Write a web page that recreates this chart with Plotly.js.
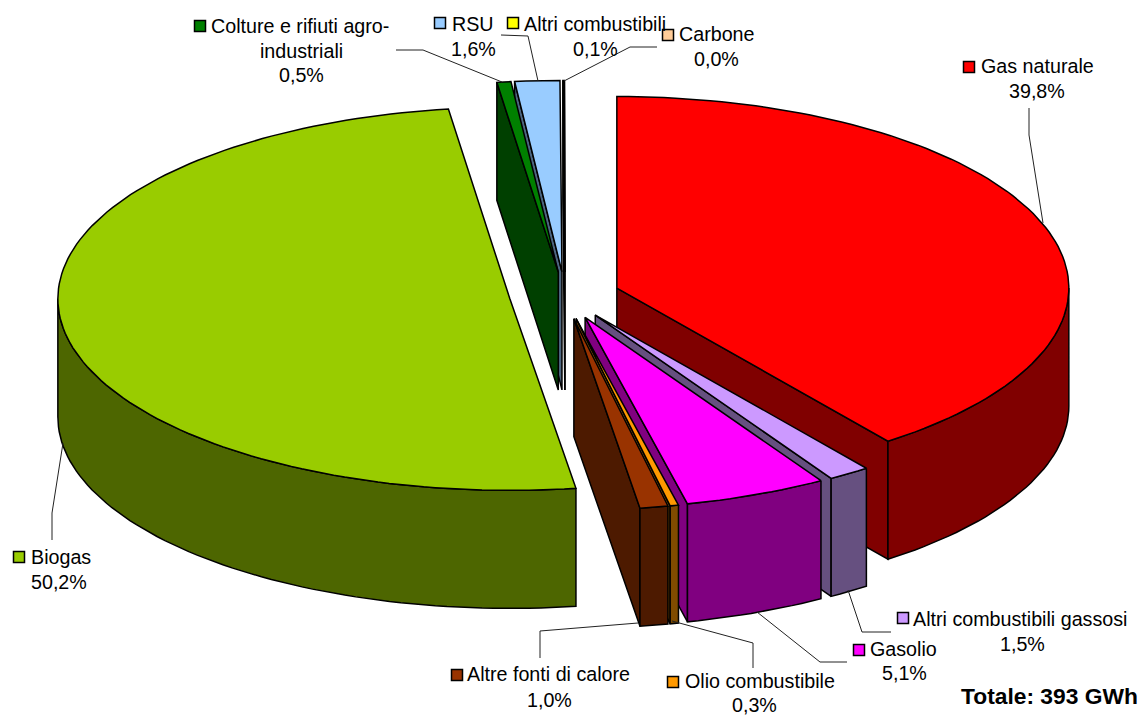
<!DOCTYPE html>
<html>
<head>
<meta charset="utf-8">
<script src="https://cdn.plot.ly/plotly-3.0.1.min.js"></script>
<style>html,body{margin:0;padding:0;background:#fff}#c{width:1141px;height:717px}</style>
</head>
<body>
<div id="c"></div>
<script>
// DATA ---------------------------------------------------------------
const categories = ["Gas naturale","Altri combustibili gassosi","Gasolio","Olio combustibile","Altre fonti di calore","Biogas","Colture e rifiuti agro-industriali","RSU","Altri combustibili","Carbone"];
const values = [39.75,1.5,5.1,0.3,1.0,50.15,0.5,1.6,0.05,0.02];
const pctLabels = ["39,8%","1,5%","5,1%","0,3%","1,0%","50,2%","0,5%","1,6%","0,1%","0,0%"];
const topColors = ["#FF0000","#CC99FF","#FF00FF","#FF9900","#993300","#99CC00","#008000","#99CCFF","#FFFF00","#FFCC99"];
const wallColors = ["#800000","#665080","#800080","#804C00","#4D1A00","#4D6600","#004000","#4D6680","#808000","#806650"];
const drawOrder = [9,8,7,6,0,5,1,2,3,4];
// first-line text left edge, y; percentage centre x, y; legend key x, y
const nameX = [981,913,870,685,467,31,211,452,524,679];
const nameY = [66,619,649,681,674,557,26,24,24,34];
const pctX = [1037,1022,904,754,549,59,301,473,595,716];
const pctY = [91,644,673,705,700,582,75,49,49,59];
const keyX = [969,903,859,673,457,19,200,440,513,668];
const keyY = [67,618,650,682,675,557,26,23,23,35];
const nudgeX = [0,0,0,0,0,1,1,1,1,1];
const leaders = [
  [[1029,1029,1043],[108,135,223]],
  [[848,862,891],[590,632,632]],
  [[757,820,847],[612,662,662]],
  [[672,753,753],[621,643,668]],
  [[638,540,540],[623,631,658]],
  [[63,52,52],[443,513,540]],
  [[396,423,502],[50,50,82]],
  [[],[]],
  [[501,528,538],[35,36,81]],
  [[564,630,657],[81,47,47]]
];
// GEOMETRY (pie projection parameters)
const cx=564, cy=295.5, rx=452, ry=191.5, depth=118, explode=55.7;
const total = values.reduce((a,b)=>a+b,0);

function pt(ax,ay,deg){
  const t=deg*Math.PI/180;
  return [ax+rx*Math.sin(t), ay-ry*Math.cos(t)];
}
function poly(xs,ys,fill){
  return {type:'scatter',mode:'lines',x:xs.concat([xs[0]]),y:ys.concat([ys[0]]),fill:'toself',
    fillcolor:fill,line:{color:'#000',width:1.5,shape:'linear'},hoverinfo:'skip',showlegend:false};
}
const starts=[]; let acc=0;
values.forEach(v=>{starts.push(acc); acc+=v;});
const traces=[];
drawOrder.forEach(i=>{
  const a0=starts[i]/total*360, a1=(starts[i]+values[i])/total*360, mid=(a0+a1)/2;
  const ax=cx+nudgeX[i]+explode*Math.sin(mid*Math.PI/180), ay=cy-explode*(ry/rx)*Math.cos(mid*Math.PI/180);
  const n=Math.max(2,Math.ceil((a1-a0)/1.5));
  const arc=[]; for(let k=0;k<=n;k++){arc.push(a0+(a1-a0)*k/n);}
  // radial walls that face the viewer
  [[a0,a0>180],[a1,a1<180]].forEach(([a,vis])=>{
    if(!vis) return;
    const p=pt(ax,ay,a);
    traces.push(poly([ax,p[0],p[0],ax],[ay,p[1],p[1]+depth,ay+depth],wallColors[i]));
  });
  // outer wall: only the part facing the viewer
  const lo=Math.max(a0,90), hi=Math.min(a1,270);
  if(hi>lo){
    const m=Math.max(2,Math.ceil((hi-lo)/1.5)); const u=[],v=[],bx=[],by=[];
    for(let k=0;k<=m;k++){const p=pt(ax,ay,lo+(hi-lo)*k/m);u.push(p[0]);v.push(p[1]);bx.unshift(p[0]);by.unshift(p[1]+depth);}
    traces.push(poly(u.concat(bx),v.concat(by),wallColors[i]));
  }
  // top face
  const tx=[ax],ty=[ay];
  arc.forEach(a=>{const p=pt(ax,ay,a);tx.push(p[0]);ty.push(p[1]);});
  traces.push(poly(tx,ty,topColors[i]));
});
// leader lines
leaders.forEach(l=>{ if(l[0].length) traces.push({type:'scatter',mode:'lines',x:l[0],y:l[1],line:{color:'#222',width:1},hoverinfo:'skip',showlegend:false}); });
// legend keys
traces.push({type:'scatter',mode:'markers',x:keyX,y:keyY,
  marker:{symbol:'square',size:11,color:topColors,line:{color:'#000',width:1.5}},hoverinfo:'skip',showlegend:false});

const font={family:'"Liberation Sans",Arial,sans-serif',size:19.7,color:'#000'};
const ann=[];
function label(text,x,y,anchor,f){ann.push({text:text,x:x,y:y,xref:'x',yref:'y',xanchor:anchor,yanchor:'middle',showarrow:false,font:f||font,borderpad:0,borderwidth:0});}
categories.forEach((c,i)=>{
  if(i===6){ label("Colture e rifiuti agro-",nameX[i],nameY[i],'left'); label("industriali",pctX[i],51,'center'); }
  else label(c,nameX[i],nameY[i],'left');
  label(pctLabels[i],pctX[i],pctY[i],'center');
});
label("<b>Totale: 393 GWh</b>",961,696,'left',{family:font.family,size:22.8,color:'#000'});

Plotly.newPlot('c',traces,{
  width:1141,height:717,margin:{l:0,r:0,t:0,b:0},
  paper_bgcolor:'#fff',plot_bgcolor:'#fff',showlegend:false,
  xaxis:{range:[0,1141],visible:false,fixedrange:true},
  yaxis:{range:[717,0],visible:false,fixedrange:true},
  annotations:ann
},{displayModeBar:false,staticPlot:true});
</script>
</body>
</html>
